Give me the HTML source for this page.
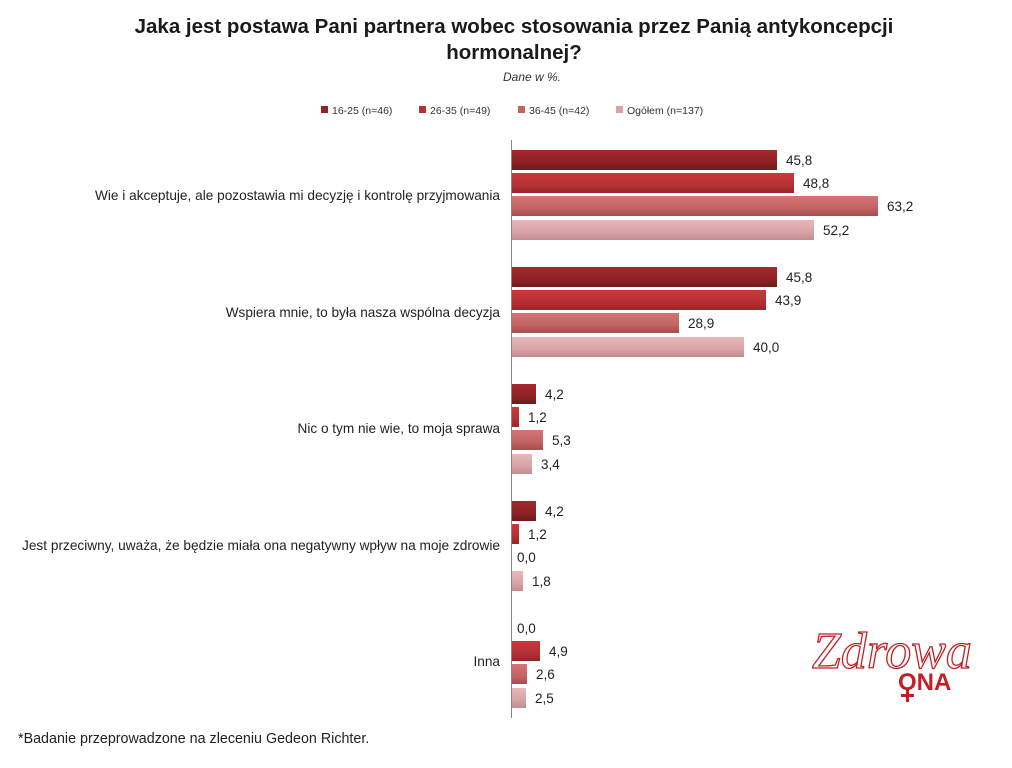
<!DOCTYPE html>
<html><head><meta charset="utf-8"><style>
body{margin:0;background:#fff;font-family:"Liberation Sans",sans-serif;}
</style></head><body>
<svg width="1012" height="763" xmlns="http://www.w3.org/2000/svg" font-family="Liberation Sans, sans-serif">
<defs>
<linearGradient id="g1" x1="0" y1="0" x2="0" y2="1"><stop offset="0" stop-color="#a5282b"/><stop offset="0.6" stop-color="#8e2226"/><stop offset="1" stop-color="#6e1a1c"/></linearGradient>
<linearGradient id="g2" x1="0" y1="0" x2="0" y2="1"><stop offset="0" stop-color="#c9393a"/><stop offset="0.6" stop-color="#b53133"/><stop offset="1" stop-color="#952628"/></linearGradient>
<linearGradient id="g3" x1="0" y1="0" x2="0" y2="1"><stop offset="0" stop-color="#d47474"/><stop offset="0.6" stop-color="#c46364"/><stop offset="1" stop-color="#a44d4f"/></linearGradient>
<linearGradient id="g4" x1="0" y1="0" x2="0" y2="1"><stop offset="0" stop-color="#e6b8ba"/><stop offset="0.6" stop-color="#d9a3a6"/><stop offset="1" stop-color="#c38d90"/></linearGradient>
</defs>
<text x="514" y="33" text-anchor="middle" font-size="20.5" font-weight="bold" fill="#1a1a1a">Jaka jest postawa Pani partnera wobec stosowania przez Panią antykoncepcji</text>
<text x="514" y="59" text-anchor="middle" font-size="20.5" font-weight="bold" fill="#1a1a1a">hormonalnej?</text>
<text x="532" y="81" text-anchor="middle" font-size="12" font-style="italic" fill="#333">Dane w %.</text>
<g font-size="10.5" fill="#333">
<rect x="321" y="106" width="7" height="7" fill="#8e2226"/><text x="332" y="114">16-25 (n=46)</text>
<rect x="419" y="106" width="7" height="7" fill="#b53133"/><text x="430" y="114">26-35 (n=49)</text>
<rect x="518" y="106" width="7" height="7" fill="#c46364"/><text x="529" y="114">36-45 (n=42)</text>
<rect x="616" y="106" width="7" height="7" fill="#d9a3a6"/><text x="627" y="114">Ogółem (n=137)</text>
</g>
<line x1="511.5" y1="140" x2="511.5" y2="718" stroke="#888" stroke-width="1"/>
<g font-size="13.6" fill="#222" text-anchor="end">
<text x="500" y="200" textLength="405" lengthAdjust="spacingAndGlyphs">Wie i akceptuje, ale pozostawia mi decyzję i kontrolę przyjmowania</text>
<text x="500" y="317">Wspiera mnie, to była nasza wspólna decyzja</text>
<text x="500" y="433">Nic o tym nie wie, to moja sprawa</text>
<text x="500" y="550" textLength="478" lengthAdjust="spacingAndGlyphs">Jest przeciwny, uważa, że będzie miała ona negatywny wpływ na moje zdrowie</text>
<text x="500" y="666">Inna</text>
</g>
<g font-size="13.5" fill="#222">
<rect x="512" y="150" width="265" height="20" fill="url(#g1)"/><text x="786" y="165">45,8</text>
<rect x="512" y="173" width="282" height="20" fill="url(#g2)"/><text x="803" y="188">48,8</text>
<rect x="512" y="196" width="366" height="20" fill="url(#g3)"/><text x="887" y="211">63,2</text>
<rect x="512" y="220" width="302" height="20" fill="url(#g4)"/><text x="823" y="235">52,2</text>
<rect x="512" y="267" width="265" height="20" fill="url(#g1)"/><text x="786" y="282">45,8</text>
<rect x="512" y="290" width="254" height="20" fill="url(#g2)"/><text x="775" y="305">43,9</text>
<rect x="512" y="313" width="167" height="20" fill="url(#g3)"/><text x="688" y="328">28,9</text>
<rect x="512" y="337" width="232" height="20" fill="url(#g4)"/><text x="753" y="352">40,0</text>
<rect x="512" y="384" width="24" height="20" fill="url(#g1)"/><text x="545" y="399">4,2</text>
<rect x="512" y="407" width="7" height="20" fill="url(#g2)"/><text x="528" y="422">1,2</text>
<rect x="512" y="430" width="31" height="20" fill="url(#g3)"/><text x="552" y="445">5,3</text>
<rect x="512" y="454" width="20" height="20" fill="url(#g4)"/><text x="541" y="469">3,4</text>
<rect x="512" y="501" width="24" height="20" fill="url(#g1)"/><text x="545" y="516">4,2</text>
<rect x="512" y="524" width="7" height="20" fill="url(#g2)"/><text x="528" y="539">1,2</text>
<text x="517" y="562">0,0</text>
<rect x="512" y="571" width="11" height="20" fill="url(#g4)"/><text x="532" y="586">1,8</text>
<text x="517" y="633">0,0</text>
<rect x="512" y="641" width="28" height="20" fill="url(#g2)"/><text x="549" y="656">4,9</text>
<rect x="512" y="664" width="15" height="20" fill="url(#g3)"/><text x="536" y="679">2,6</text>
<rect x="512" y="688" width="14" height="20" fill="url(#g4)"/><text x="535" y="703">2,5</text>
</g>
<text x="18" y="743" font-size="14.3" fill="#222">*Badanie przeprowadzone na zleceniu Gedeon Richter.</text>
<g fill="#c41e24">
<text x="812" y="668" font-size="52" font-family="Liberation Serif, serif" font-style="italic" fill="none" stroke="#c41e24" stroke-width="1.3">Zdrowa</text>
<text x="898" y="690" font-size="24" font-weight="bold">ONA</text>
<rect x="906" y="688" width="3" height="14"/><rect x="901" y="694" width="13" height="3"/>
</g>
</svg>
</body></html>
